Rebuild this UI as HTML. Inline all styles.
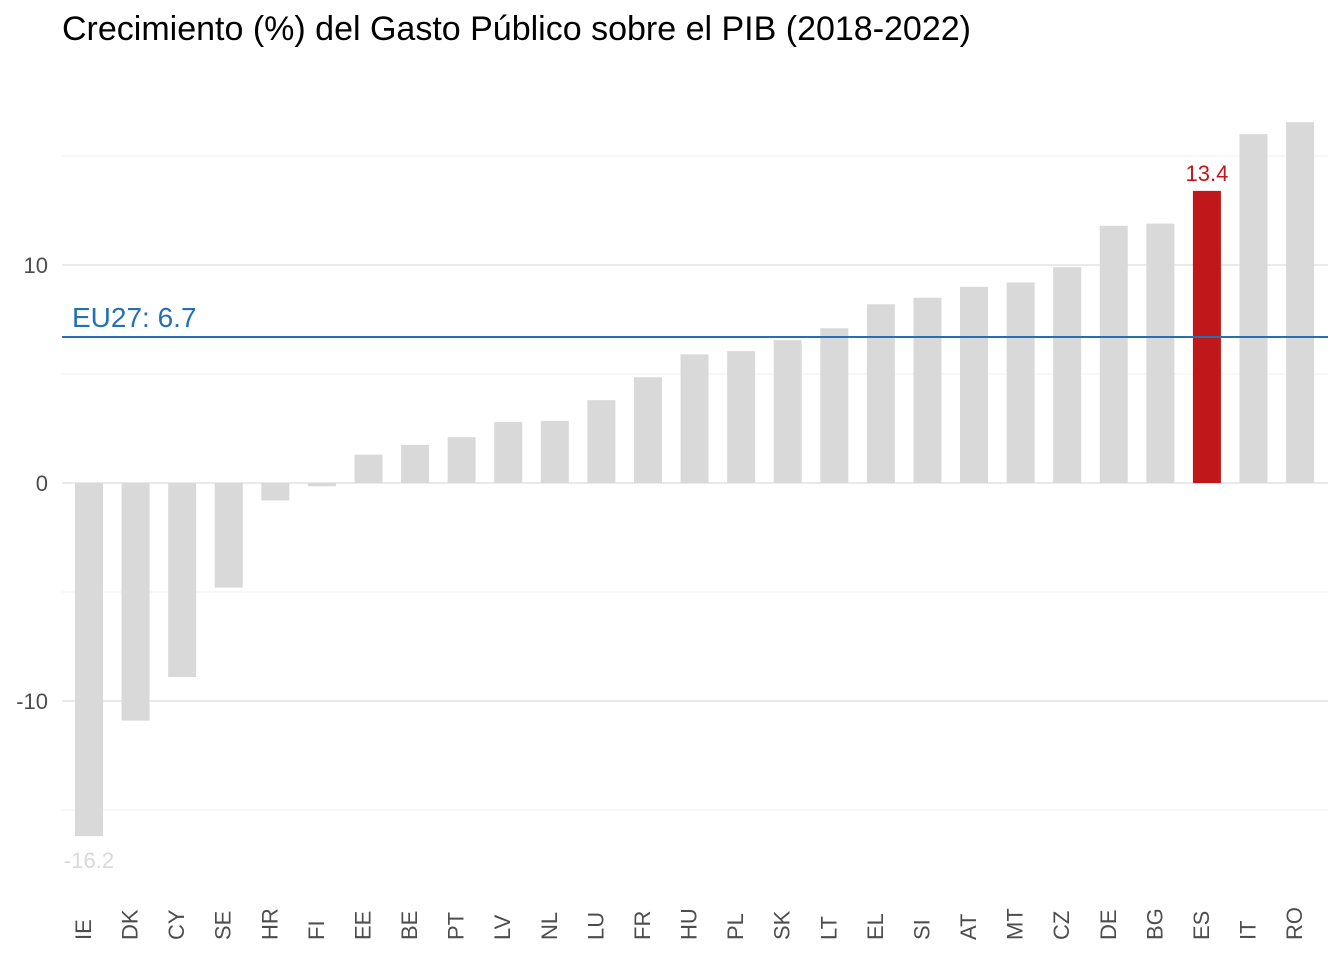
<!DOCTYPE html>
<html><head><meta charset="utf-8"><style>
body{margin:0;background:#fff;font-family:"Liberation Sans",sans-serif;}
svg text{font-family:"Liberation Sans",sans-serif;}
</style></head><body>
<svg id="chart" width="1344" height="960" xmlns="http://www.w3.org/2000/svg">
<text x="62" y="40" font-size="34" fill="#000">Crecimiento (%) del Gasto Público sobre el PIB (2018-2022)</text>
<g id="grid"></g><g id="bars"></g><g id="labels"></g>
</svg>
<script>
const categories=["IE","DK","CY","SE","HR","FI","EE","BE","PT","LV","NL","LU","FR","HU","PL","SK","LT","EL","SI","AT","MT","CZ","DE","BG","ES","IT","RO"];
const values=[-16.2,-10.9,-8.9,-4.8,-0.8,-0.15,1.3,1.75,2.1,2.8,2.85,3.8,4.85,5.9,6.05,6.55,7.1,8.2,8.5,9.0,9.2,9.9,11.8,11.9,13.4,16.0,16.55];
const eu27=6.7;
const highlight="ES";
const yTicks=[-10,0,10];
const yMinor=[-15,-5,5,15];
const NS="http://www.w3.org/2000/svg";
const y=v=>483-v*21.8;
const x=i=>89+i*46.58;
function mk(tag,attrs,parent){const e=document.createElementNS(NS,tag);for(const k in attrs)e.setAttribute(k,attrs[k]);parent.appendChild(e);return e;}
const grid=document.getElementById('grid'),bars=document.getElementById('bars'),labels=document.getElementById('labels');
yMinor.forEach(t=>{const l=mk('line',{x1:62,x2:1328,y1:y(t),y2:y(t),stroke:'#f0f0f0','stroke-width':1},grid);

});
yTicks.forEach(t=>{const l=mk('line',{x1:62,x2:1328,y1:y(t),y2:y(t),stroke:'#e4e4e4','stroke-width':1.5},grid);


const tx=mk('text',{x:48,y:y(t)+8,'text-anchor':'end','font-size':22,fill:'#4d4d4d'},grid);tx.textContent=t;

});
categories.forEach((c,i)=>{const v=values[i];const top=Math.min(y(v),y(0)),h=Math.abs(y(v)-y(0));
const r=mk('rect',{x:x(i)-14,y:top,width:28,height:h,fill:c===highlight?'#c0181a':'#d9d9d9'},bars);


const t=mk('text',{transform:`translate(${x(i)+2},940) rotate(-90)`,'font-size':22,fill:'#4d4d4d'},labels);t.textContent=c;


if(c===highlight){const vl=mk('text',{x:x(i),y:y(v)-10,'text-anchor':'middle','font-size':22,fill:'#c0181a'},labels);vl.textContent=v.toFixed(1);

}
if(i===0){const vl=mk('text',{x:x(i),y:y(v)+32,'text-anchor':'middle','font-size':22,fill:'#d9d9d9'},labels);vl.textContent=v.toFixed(1);

}
});
const el=mk('line',{x1:62,x2:1328,y1:y(eu27),y2:y(eu27),stroke:'#2470b3','stroke-width':2},labels);


const et=mk('text',{x:72,y:y(eu27)-10,'font-size':28,fill:'#2470b3'},labels);et.textContent='EU27: '+eu27;


</script>
</body></html>
